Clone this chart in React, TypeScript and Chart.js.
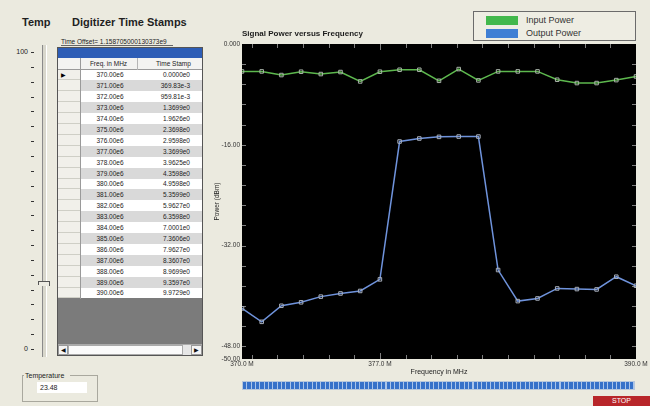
import React, { useEffect, useRef } from "react";
import { Chart, registerables } from "chart.js";

Chart.register(...registerables);

// ---------- data ----------
const frequenciesMHz = [370, 371, 372, 373, 374, 375, 376, 377, 378, 379, 380, 381, 382, 383, 384, 385, 386, 387, 388, 389, 390];
const inputPowerDbm = [-4.35, -4.35, -4.93, -4.4, -4.77, -4.45, -5.94, -4.4, -4.09, -4.09, -5.84, -3.98, -5.78, -4.35, -4.35, -4.35, -5.67, -6.2, -6.2, -5.73, -5.15];
const outputPowerDbm = [-41.97, -44.1, -41.55, -41.0, -40.1, -39.6, -39.2, -37.36, -15.48, -15.0, -14.74, -14.69, -14.69, -35.88, -40.81, -40.39, -38.8, -38.9, -38.96, -36.94, -38.37];
const timeStamps = ["0.0000e0", "369.83e-3", "959.81e-3", "1.3699e0", "1.9626e0", "2.3698e0", "2.9598e0", "3.3699e0", "3.9625e0", "4.3598e0", "4.9598e0", "5.3599e0", "5.9627e0", "6.3598e0", "7.0001e0", "7.3606e0", "7.9627e0", "8.3607e0", "8.9699e0", "9.3597e0", "9.9729e0"];
const yTickValues = [0, -16, -32, -48, -50];
const yTickLabels = ["0.000", "-16.00", "-32.00", "-48.00", "-50.00"];
const xTickValues = [370, 377, 390];
const xTickLabels = ["370.0 M", "377.0 M", "390.0 M"];
const sliderLabels = ["100", "0"];
const timeOffsetText = "Time Offset= 1.158705000130373e9";
const temperatureValue = "23.48";

const FONT = "'Liberation Sans', Arial, sans-serif";
const BG = "#ebeadf";

const innerTicks = {
  id: "innerTicks",
  beforeDatasetsDraw(chart: any) {
    const { ctx, chartArea, scales } = chart;
    const { left, right, top, bottom } = chartArea;
    const x = scales.x;
    const y = scales.y;
    ctx.save();
    ctx.strokeStyle = "#7f7f7f";
    ctx.lineWidth = 1;
    ctx.beginPath();
    for (let k = 1; k <= 15; k++) {
      const py = Math.round(y.getPixelForValue(-3.2 * k)) + 0.5;
      ctx.moveTo(left, py);
      ctx.lineTo(left + 4, py);
      ctx.moveTo(right - 4, py);
      ctx.lineTo(right, py);
    }
    for (let k = -5; k <= 9; k++) {
      const v = 377 + 1.3 * k;
      const px = Math.round(x.getPixelForValue(v)) + 0.5;
      const len = k === 0 ? 6 : 4;
      ctx.moveTo(px, top);
      ctx.lineTo(px, top + len);
      ctx.moveTo(px, bottom - len);
      ctx.lineTo(px, bottom);
    }
    ctx.stroke();
    ctx.restore();
  },
};

const blackArea = {
  id: "blackArea",
  beforeDraw(chart: any) {
    const { ctx, chartArea } = chart;
    ctx.save();
    ctx.fillStyle = "#000000";
    ctx.fillRect(chartArea.left, chartArea.top, chartArea.right - chartArea.left, chartArea.bottom - chartArea.top);
    ctx.restore();
  },
};

function PowerChart() {
  const ref = useRef<HTMLCanvasElement | null>(null);
  useEffect(() => {
    if (!ref.current) return;
    const chart = new Chart(ref.current, {
      type: "line",
      data: {
        datasets: [
          {
            label: "Input Power",
            data: frequenciesMHz.map((f, i) => ({ x: f, y: inputPowerDbm[i] })),
            borderColor: "#5db84e",
            borderWidth: 1.5,
            pointStyle: "rect",
            pointRadius: 2.5,
            pointBorderColor: "#a9b3a9",
            pointBackgroundColor: "rgba(0,0,0,0)",
            pointBorderWidth: 1,
            tension: 0,
          },
          {
            label: "Output Power",
            data: frequenciesMHz.map((f, i) => ({ x: f, y: outputPowerDbm[i] })),
            borderColor: "#6f93dc",
            borderWidth: 1.5,
            pointStyle: "rect",
            pointRadius: 2.5,
            pointBorderColor: "#a9b0bd",
            pointBackgroundColor: "rgba(0,0,0,0)",
            pointBorderWidth: 1,
            tension: 0,
          },
        ],
      },
      options: {
        animation: false,
        responsive: false,
        maintainAspectRatio: false,
        layout: { padding: { left: 0, top: 29, right: 14, bottom: 0 } },
        plugins: {
          legend: { display: false },
          tooltip: { enabled: false },
          title: {
            display: true,
            text: "Signal Power versus Frequency",
            align: "start",
            fullSize: false,
            color: "#1c1c1c",
            font: { family: FONT, size: 8, weight: "bold", lineHeight: 1.2 },
            padding: { top: 0, bottom: 5.4 },
          },
        },
        scales: {
          x: {
            type: "linear",
            min: 370,
            max: 390,
            afterBuildTicks: (s: any) => {
              s.ticks = xTickValues.map((v) => ({ value: v }));
            },
            afterFit: (s: any) => {
              s.height = 47;
              s.paddingLeft = 0;
              s.paddingRight = 0;
            },
            ticks: {
              autoSkip: false,
              maxRotation: 0,
              padding: 1,
              color: "#333333",
              font: { family: FONT, size: 6.5 },
              callback: (v: any) => {
                const i = xTickValues.indexOf(Number(v));
                return i >= 0 ? xTickLabels[i] : "";
              },
            },
            grid: { display: false, drawTicks: false },
            border: { display: false },
            title: {
              display: true,
              text: "Frequency in MHz",
              color: "#222222",
              font: { family: FONT, size: 7, lineHeight: 1.2 },
              padding: { top: 0, bottom: 29.8 },
            },
          },
          y: {
            min: -50,
            max: 0,
            afterBuildTicks: (s: any) => {
              s.ticks = yTickValues.map((v) => ({ value: v }));
            },
            afterFit: (s: any) => {
              s.width = 42;
              s.paddingTop = 0;
              s.paddingBottom = 0;
            },
            ticks: {
              autoSkip: false,
              padding: 2,
              color: "#333333",
              font: { family: FONT, size: 6.5 },
              callback: (v: any) => {
                const i = yTickValues.indexOf(Number(v));
                return i >= 0 ? yTickLabels[i] : "";
              },
            },
            grid: { display: false, drawTicks: false },
            border: { display: false },
            title: {
              display: true,
              text: "Power (dBm)",
              color: "#222222",
              font: { family: FONT, size: 6.5, lineHeight: 1.2 },
              padding: { top: 13.1, bottom: 0 },
            },
          },
        },
      },
      plugins: [blackArea, innerTicks],
    } as any);
    return () => chart.destroy();
  }, []);
  return (
    <canvas
      ref={ref}
      width={450}
      height={406}
      style={{ position: "absolute", left: 200, top: 0, width: 450, height: 406 }}
    />
  );
}

const abs = (x: number, y: number, w: number, h: number, extra: any = {}) => ({
  position: "absolute" as const,
  left: x,
  top: y,
  width: w,
  height: h,
  boxSizing: "border-box" as const,
  ...extra,
});

function TimeTable() {
  const rowTop = 69.5;
  const rowH = 10.9;
  const txt = { fontSize: 6.5, color: "#222", whiteSpace: "nowrap" as const };
  return (
    <>
      <div style={abs(57, 47, 146, 309, { background: "#7b7b7b" })} />
      <div style={abs(57, 47, 146, 11, { background: "#2d5db6" })} />
      <div style={abs(57, 58, 146, 12, { background: "#f3f3f1", borderBottom: "1px solid #9a9a9a" })} />
      <div style={abs(80, 58, 57, 12, { ...txt, textAlign: "center", lineHeight: "11px" })}>Freq. in MHz</div>
      <div style={abs(137, 58, 65, 12, { ...txt, textAlign: "center", lineHeight: "11px", paddingLeft: 8 })}>Time Stamp</div>
      {frequenciesMHz.map((f, i) => {
        const y0 = Math.round(rowTop + i * rowH);
        const y1 = Math.round(rowTop + (i + 1) * rowH);
        const h = y1 - y0;
        return (
          <React.Fragment key={f}>
            <div style={abs(57, y0, 23, h, { background: "#f1f0ea", borderBottom: "1px solid #cfcfc6" })}>
              {i === 0 ? <span style={{ position: "absolute", left: 4, top: 0, fontSize: 6, lineHeight: h + "px", color: "#000" }}>▶</span> : null}
            </div>
            <div style={abs(80, y0, 122, h, { background: i % 2 === 0 ? "#ffffff" : "#d9d9d9" })} />
            <div style={abs(80, y0, 57, h, { ...txt, lineHeight: h + "px", textAlign: "center", paddingLeft: 3 })}>{f.toFixed(2) + "e6"}</div>
            <div style={abs(137, y0, 65, h, { ...txt, lineHeight: h + "px", textAlign: "right", paddingRight: 12 })}>{timeStamps[i]}</div>
          </React.Fragment>
        );
      })}
      <div style={abs(80, 58, 1, 241, { background: "#9a9a9a" })} />
      <div style={abs(137, 58, 1, 12, { background: "#b5b5b5" })} />
      {/* scrollbar */}
      <div style={abs(57, 344, 146, 12, { background: "#e6e6e6", borderTop: "1px solid #aaa" })} />
      <div style={abs(58, 345, 10, 10, { background: "#f4f4f4", border: "1px solid #999", fontSize: 6, lineHeight: "8px", textAlign: "center", color: "#111" })}>◀</div>
      <div style={abs(68, 345, 115, 10, { background: "#fbfbfb", border: "1px solid #aaa" })} />
      <div style={abs(191, 345, 11, 10, { background: "#f4f4f4", border: "1px solid #999", fontSize: 6, lineHeight: "8px", textAlign: "center", color: "#111" })}>▶</div>
      <div style={abs(57, 47, 146, 309, { border: "1px solid #555" })} />
    </>
  );
}

function Slider() {
  const ticks: number[] = [];
  for (let k = 0; k <= 20; k++) ticks.push(52 + k * 14.85);
  return (
    <>
      <div style={abs(6, 47, 22, 10, { fontSize: 7, lineHeight: "10px", textAlign: "right", color: "#222" })}>{sliderLabels[0]}</div>
      <div style={abs(6, 344, 22, 10, { fontSize: 7, lineHeight: "10px", textAlign: "right", color: "#222" })}>{sliderLabels[1]}</div>
      {ticks.map((t, k) => (
        <div key={k} style={abs(31, Math.round(t), 3, 1, { background: "#333" })} />
      ))}
      <div style={abs(42, 45, 1, 312, { background: "#8a8a8a" })} />
      <div style={abs(43, 45, 3, 312, { background: "#d8d7cc" })} />
      <div style={abs(46, 45, 1, 312, { background: "#ffffff" })} />
      {/* thumb */}
      <div style={abs(38, 281, 12, 5, { borderTop: "1px solid #555", borderRight: "1px solid #555", background: "#ecebe2" })} />
      <div style={abs(38, 281, 1, 4, { background: "#555" })} />
    </>
  );
}

export default function App() {
  return (
    <div
      style={{
        position: "fixed",
        left: 0,
        top: 0,
        width: 650,
        height: 406,
        background: BG,
        overflow: "hidden",
        fontFamily: FONT,
      }}
    >
      <div style={abs(22, 15, 40, 15, { fontSize: 11, fontWeight: "bold", color: "#1f1f1f", lineHeight: "15px" })}>Temp</div>
      <div style={abs(72, 15, 140, 15, { fontSize: 11, fontWeight: "bold", color: "#1f1f1f", lineHeight: "15px", whiteSpace: "nowrap" })}>Digitizer Time Stamps</div>
      <div style={abs(61, 37, 112, 9, { fontSize: 6.5, color: "#222", lineHeight: "9px", whiteSpace: "nowrap", borderBottom: "1px solid #666" })}>{timeOffsetText}</div>
      <Slider />
      <TimeTable />
      {/* temperature */}
      <div style={abs(22, 375, 76, 27, { border: "1px solid #a9a89e" })} />
      <div style={abs(24, 371, 46, 9, { fontSize: 7, lineHeight: "9px", color: "#222", background: BG, paddingLeft: 1, whiteSpace: "nowrap" })}>Temperature</div>
      <div style={abs(37, 382, 50, 11, { background: "#ffffff", fontSize: 7, lineHeight: "11px", color: "#222", paddingLeft: 3 })}>{temperatureValue}</div>

      <PowerChart />

      {/* legend */}
      <div style={abs(473, 11, 163, 30, { border: "1px solid #6b6b6b", background: "#eeede3" })}>
        <div style={abs(12, 4, 32, 9, { background: "#42b84c" })} />
        <div style={abs(12, 17, 32, 9, { background: "#3f7fd4" })} />
        <div style={abs(52, 2, 100, 12, { fontSize: 9, lineHeight: "12px", color: "#333" })}>Input Power</div>
        <div style={abs(52, 15, 100, 12, { fontSize: 9, lineHeight: "12px", color: "#333" })}>Output Power</div>
      </div>

      {/* progress bar */}
      <div
        style={abs(242, 381, 393, 9, {
          border: "1px solid #b7c7dc",
          background: "repeating-linear-gradient(90deg, #3671c9 0px, #3671c9 3.3px, #a9c4ea 3.3px, #a9c4ea 4.35px)",
        })}
      />
      {/* stop button */}
      <div style={abs(593, 396, 57, 12, { background: "#b8262a", color: "#fff", fontSize: 7, lineHeight: "10px", textAlign: "center" })}>STOP</div>
    </div>
  );
}
